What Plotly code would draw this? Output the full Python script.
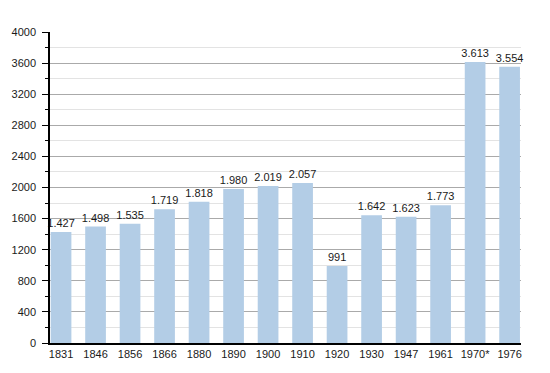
import plotly.graph_objects as go

years = ["1831", "1846", "1856", "1866", "1880", "1890", "1900", "1910",
         "1920", "1930", "1947", "1961", "1970*", "1976"]
population = [1427, 1498, 1535, 1719, 1818, 1980, 2019, 2057,
              991, 1642, 1623, 1773, 3613, 3554]

FONT = "Liberation Sans, Arial, sans-serif"

fig = go.Figure(go.Bar(
    x=years, y=population,
    marker=dict(color="#b3cde6", line=dict(width=0)),
    texttemplate="%{y:,}", textposition="outside",
    textfont=dict(family=FONT, size=11, color="#1a1a1a"),
    cliponaxis=False,
    width=0.6,
))

fig.update_layout(
    width=542, height=365,
    margin=dict(l=42, r=29, t=24, b=30, autoexpand=False),
    paper_bgcolor="white", plot_bgcolor="white",
    separators=",.",
    showlegend=False,
    font=dict(family=FONT, size=11, color="#1a1a1a"),
    uniformtext=dict(minsize=11, mode="show"),
)
fig.update_xaxes(
    type="category", range=[-0.32, 13.33], automargin=False,
    showline=True, linecolor="black", linewidth=1.5,
    ticks="", showgrid=False, tickfont=dict(size=11),
)
fig.update_yaxes(
    range=[0, 4000], dtick=400, tickformat="d", automargin=False,
    showline=True, linecolor="black", linewidth=1.5,
    ticks="outside", ticklen=6, tickcolor="black",
    ticklabelstandoff=4,
    showgrid=True, gridcolor="#aaaaaa", gridwidth=1,
    zeroline=False,
    minor=dict(dtick=200, showgrid=True, gridcolor="#e3e3e3", ticks="outside",
               ticklen=3, tickcolor="black"),
    tickfont=dict(size=11),
)

fig.write_html("out.html")
